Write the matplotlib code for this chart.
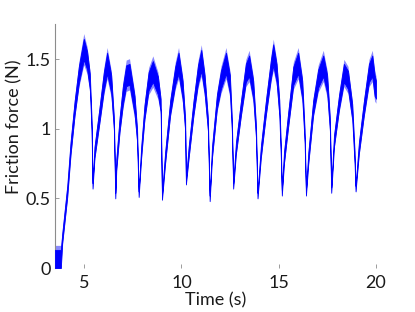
import matplotlib
matplotlib.use("Agg")
import matplotlib.pyplot as plt
import numpy as np

# Data (time in s, friction force band centre and half-width in N)
time_s = [
    3.50, 3.80, 3.87, 4.13, 4.30, 4.51, 4.73, 4.98, 5.15, 5.29, 5.38, 5.43,
    5.53, 5.76, 6.01, 6.18, 6.39, 6.53, 6.60,
    6.65, 6.82, 6.99, 7.16, 7.33, 7.59, 7.72, 7.80,
    7.93, 8.10, 8.31, 8.53, 8.79, 8.93, 9.00,
    9.16, 9.42, 9.68, 9.85, 10.06, 10.19, 10.23,
    10.37, 10.62, 10.85, 11.02, 11.19, 11.36, 11.45,
    11.57, 11.82, 12.03, 12.29, 12.49, 12.59, 12.66,
    12.80, 13.06, 13.31, 13.48, 13.69, 13.83, 13.91,
    14.08, 14.34, 14.60, 14.72, 14.89, 15.03, 15.11, 15.16,
    15.27, 15.49, 15.75, 16.00, 16.21, 16.33, 16.40,
    16.52, 16.77, 17.03, 17.29, 17.49, 17.63, 17.70,
    17.84, 18.10, 18.35, 18.56, 18.78, 18.90, 18.95,
    19.12, 19.38, 19.64, 19.81, 19.93, 20.00,
]
force_mid = [
    0.065, 0.065, 0.21, 0.55, 0.86, 1.15, 1.39, 1.57, 1.49, 1.34, 1.03, 0.59,
    0.83, 1.07, 1.34, 1.47, 1.32, 1.03, 0.52,
    0.74, 1.03, 1.24, 1.38, 1.39, 1.17, 0.95, 0.53,
    0.83, 1.12, 1.34, 1.41, 1.31, 1.17, 0.51,
    0.79, 1.15, 1.38, 1.47, 1.28, 1.03, 0.62,
    0.83, 1.15, 1.39, 1.49, 1.32, 1.03, 0.50,
    0.83, 1.19, 1.35, 1.47, 1.32, 1.03, 0.59,
    0.86, 1.15, 1.40, 1.45, 1.28, 0.98, 0.52,
    0.83, 1.15, 1.43, 1.53, 1.40, 1.15, 0.83, 0.54,
    0.79, 1.07, 1.38, 1.47, 1.28, 0.95, 0.54,
    0.79, 1.15, 1.36, 1.45, 1.32, 1.03, 0.56,
    0.91, 1.19, 1.40, 1.35, 1.12, 0.79, 0.57,
    0.86, 1.15, 1.40, 1.45, 1.31, 1.28,
]
force_spread = [
    0.065, 0.065, 0.035, 0.04, 0.045, 0.05, 0.06, 0.075, 0.065, 0.055, 0.04, 0.02,
    0.04, 0.05, 0.065, 0.075, 0.065, 0.045, 0.02,
    0.04, 0.05, 0.065, 0.075, 0.075, 0.065, 0.045, 0.02,
    0.04, 0.05, 0.065, 0.075, 0.065, 0.045, 0.02,
    0.04, 0.05, 0.065, 0.075, 0.065, 0.045, 0.02,
    0.04, 0.05, 0.065, 0.075, 0.065, 0.045, 0.02,
    0.04, 0.05, 0.065, 0.075, 0.065, 0.045, 0.02,
    0.04, 0.05, 0.065, 0.075, 0.065, 0.045, 0.02,
    0.04, 0.05, 0.065, 0.075, 0.065, 0.055, 0.045, 0.02,
    0.04, 0.05, 0.065, 0.075, 0.065, 0.045, 0.02,
    0.04, 0.05, 0.065, 0.075, 0.065, 0.045, 0.02,
    0.04, 0.05, 0.065, 0.065, 0.055, 0.045, 0.02,
    0.04, 0.05, 0.065, 0.075, 0.075, 0.065,
]
x_ticks = [5, 10, 15, 20]
y_ticks = [0, 0.5, 1, 1.5]
y_tick_labels = ["0", "0.5", "1", "1.5"]

plt.rcParams['font.family'] = ['Lato', 'DejaVu Sans']

t = np.array(time_s)
mid = np.array(force_mid)
spr = np.array(force_spread)

fig = plt.figure(figsize=(4.15, 3.12), dpi=100)
ax = fig.add_axes([0.1325, 0.141, 0.7735, 0.7815])

ax.fill_between(t, mid - spr * 1.5, mid + spr * 1.5, color='#8a8aff', lw=0, zorder=2)
ax.fill_between(t, mid - spr, mid + spr, color='#0000ff', lw=0.6, edgecolor='#0000ff', zorder=3)

ax.set_xlim(3.5, 20)
ax.set_ylim(0, 1.75)
ax.set_xticks(x_ticks)
ax.set_yticks(y_ticks)
ax.set_yticklabels(y_tick_labels)

for s in ['top', 'right', 'bottom']:
    ax.spines[s].set_visible(False)
ax.spines['left'].set_color('#8c8c8c')
ax.spines['left'].set_linewidth(0.8)

ax.tick_params(axis='both', direction='in', length=3, width=0.6, color='#8c8c8c',
               labelsize=13, labelcolor='#1a1a1a')
ax.tick_params(axis='y', pad=3)
ax.tick_params(axis='x', pad=5)

ax.set_xlabel('Time (s)', fontsize=13, color='#1a1a1a', labelpad=0)
ax.set_ylabel('Friction force (N)', fontsize=13, color='#1a1a1a')
ax.yaxis.set_label_coords(-0.10, 0.578)
ax.xaxis.set_label_coords(0.5, -0.10)

fig.savefig('out.png', dpi=100)
